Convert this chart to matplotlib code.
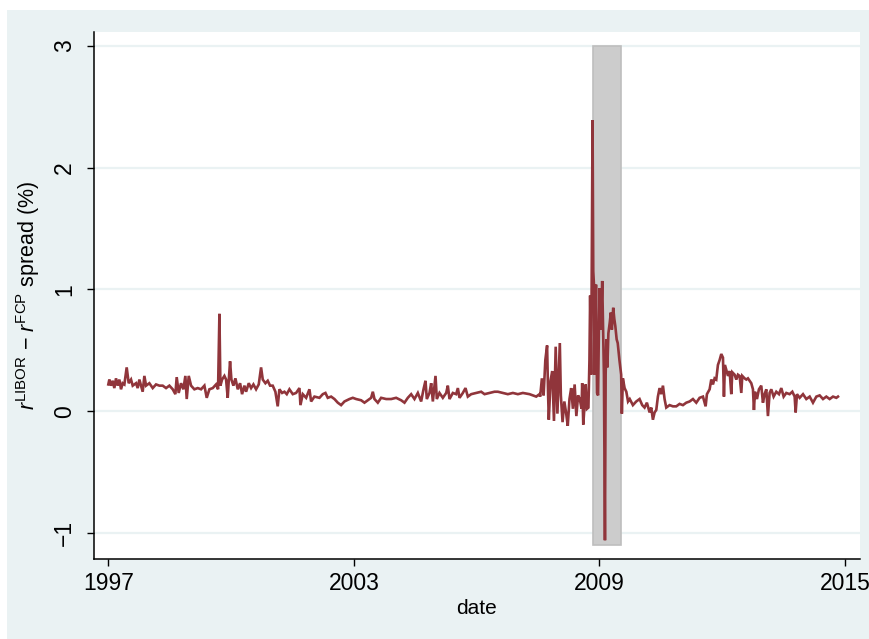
import matplotlib
matplotlib.use("Agg")
import matplotlib.pyplot as plt
from matplotlib.patches import Rectangle

# ---- data (decimal year, spread in %) ----
dates_1 = [1997.00, 1997.025, 1997.066, 1997.107, 1997.147, 1997.188, 1997.229, 1997.270, 1997.310, 1997.351,
           1997.392, 1997.449, 1997.498, 1997.555, 1997.596, 1997.677, 1997.718, 1997.759, 1997.799, 1997.840,
           1997.881, 1997.922, 1998.003, 1998.085, 1998.166, 1998.248, 1998.329, 1998.411, 1998.492, 1998.574,
           1998.639, 1998.671, 1998.720, 1998.777, 1998.834, 1998.883, 1998.916, 1998.965, 1999.022, 1999.103,
           1999.185, 1999.266, 1999.348, 1999.405, 1999.470, 1999.552, 1999.633, 1999.682, 1999.715, 1999.739,
           1999.780, 1999.837, 1999.878, 1999.918, 1999.943, 1999.975, 2000.008, 2000.057, 2000.106, 2000.163,
           2000.220, 2000.269, 2000.326, 2000.367, 2000.432, 2000.489, 2000.546, 2000.611, 2000.676, 2000.733,
           2000.774, 2000.839, 2000.896, 2000.953, 2001.018, 2001.083, 2001.140, 2001.181, 2001.247, 2001.304,
           2001.361, 2001.426, 2001.508, 2001.589, 2001.671, 2001.695, 2001.752, 2001.834, 2001.915, 2001.956,
           2002.037, 2002.160, 2002.241, 2002.306, 2002.363, 2002.445, 2002.526, 2002.608, 2002.689, 2002.771,
           2002.893, 2002.975, 2003.056, 2003.178, 2003.260, 2003.341, 2003.423, 2003.464, 2003.504, 2003.586,
           2003.667, 2003.790, 2003.912, 2004.034, 2004.156, 2004.238, 2004.319, 2004.401, 2004.482, 2004.564,
           2004.645, 2004.703, 2004.751, 2004.784, 2004.849, 2004.890, 2004.931, 2004.996, 2005.028, 2005.093,
           2005.175, 2005.257, 2005.297, 2005.338, 2005.420, 2005.501, 2005.542, 2005.583, 2005.664, 2005.729,
           2005.786, 2005.868, 2005.990, 2006.112, 2006.194, 2006.316, 2006.438, 2006.520, 2006.642, 2006.764,
           2006.887, 2007.009, 2007.131, 2007.294, 2007.457, 2007.538]
spread_1 = [0.22, 0.26, 0.21, 0.25, 0.19, 0.27, 0.21, 0.26, 0.18, 0.23,
            0.22, 0.36, 0.23, 0.26, 0.21, 0.23, 0.19, 0.26, 0.21, 0.16,
            0.29, 0.21, 0.23, 0.19, 0.22, 0.21, 0.21, 0.19, 0.21, 0.18,
            0.14, 0.28, 0.15, 0.23, 0.18, 0.29, 0.10, 0.29, 0.21, 0.18,
            0.19, 0.18, 0.21, 0.11, 0.18, 0.19, 0.22, 0.18, 0.80, 0.21,
            0.26, 0.29, 0.26, 0.11, 0.25, 0.41, 0.26, 0.21, 0.27, 0.18,
            0.23, 0.14, 0.21, 0.16, 0.23, 0.19, 0.22, 0.18, 0.22, 0.36,
            0.26, 0.23, 0.25, 0.21, 0.21, 0.16, 0.04, 0.18, 0.15, 0.16,
            0.14, 0.18, 0.14, 0.15, 0.19, 0.05, 0.14, 0.11, 0.18, 0.08,
            0.12, 0.11, 0.14, 0.15, 0.11, 0.12, 0.10, 0.07, 0.05, 0.08,
            0.10, 0.11, 0.10, 0.09, 0.07, 0.09, 0.11, 0.16, 0.10, 0.07,
            0.11, 0.10, 0.10, 0.11, 0.09, 0.07, 0.11, 0.14, 0.10, 0.15,
            0.08, 0.18, 0.25, 0.10, 0.15, 0.23, 0.08, 0.29, 0.10, 0.15,
            0.11, 0.15, 0.21, 0.10, 0.15, 0.14, 0.19, 0.11, 0.15, 0.19,
            0.12, 0.14, 0.15, 0.16, 0.14, 0.15, 0.16, 0.16, 0.15, 0.14,
            0.15, 0.14, 0.15, 0.14, 0.12, 0.14]

dates_2 = [2007.554, 2007.596, 2007.638, 2007.680, 2007.723, 2007.748, 2007.765, 2007.807, 2007.849, 2007.891,
           2007.933, 2007.975, 2008.009, 2008.034, 2008.059, 2008.101, 2008.144, 2008.186, 2008.228, 2008.270,
           2008.312, 2008.354, 2008.396, 2008.438, 2008.480, 2008.522, 2008.565, 2008.581, 2008.607, 2008.649,
           2008.666, 2008.699, 2008.733, 2008.758, 2008.775, 2008.800, 2008.817, 2008.834, 2008.851, 2008.868,
           2008.884, 2008.901, 2008.918, 2008.944, 2008.969, 2008.986, 2009.002, 2009.028, 2009.053, 2009.070,
           2009.095, 2009.112, 2009.137, 2009.154, 2009.171, 2009.196, 2009.221, 2009.255, 2009.280, 2009.306,
           2009.339, 2009.365, 2009.390, 2009.423, 2009.449, 2009.491, 2009.533, 2009.550, 2009.575, 2009.617,
           2009.659, 2009.701, 2009.743]
spread_2 = [0.12, 0.27, 0.13, 0.42, 0.54, 0.13, -0.07, 0.25, 0.33, -0.08,
            0.53, -0.02, 0.30, 0.56, 0.13, -0.09, 0.08, -0.01, -0.12, 0.10,
            0.19, 0.02, 0.22, -0.04, 0.13, 0.10, 0.02, 0.23, -0.11, 0.10,
            0.22, 0.02, 0.03, 0.42, 0.95, 0.30, 1.43, 2.39, 1.15, 1.04,
            0.30, 0.64, 1.04, 0.15, 0.13, 0.59, 1.01, 0.67, 0.87, 1.07,
            0.59, 0.30, -1.06, 0.30, 0.59, 0.36, 0.64, 0.73, 0.81, 0.67,
            0.85, 0.76, 0.70, 0.59, 0.56, 0.42, 0.30, -0.02, 0.27, 0.19,
            0.16, 0.08, 0.10]

dates_3 = [2009.820, 2009.902, 2009.983, 2010.048, 2010.105, 2010.162, 2010.228, 2010.268, 2010.309, 2010.350,
           2010.391, 2010.431, 2010.472, 2010.513, 2010.554, 2010.594, 2010.635, 2010.717, 2010.798, 2010.880,
           2010.961, 2011.043, 2011.124, 2011.206, 2011.287, 2011.369, 2011.450, 2011.532, 2011.597, 2011.629,
           2011.695, 2011.735, 2011.776, 2011.817, 2011.857, 2011.898, 2011.939, 2011.980, 2012.021, 2012.045,
           2012.069, 2012.102, 2012.143, 2012.184, 2012.224, 2012.249, 2012.306, 2012.347, 2012.387, 2012.428,
           2012.469, 2012.493, 2012.550, 2012.591, 2012.632, 2012.672, 2012.713, 2012.754, 2012.778, 2012.803,
           2012.852, 2012.900, 2012.957, 2012.998, 2013.039, 2013.080, 2013.120, 2013.161, 2013.202, 2013.259,
           2013.324, 2013.390, 2013.447, 2013.504, 2013.569, 2013.650, 2013.716, 2013.773, 2013.797, 2013.830,
           2013.895, 2013.977, 2014.058, 2014.140, 2014.221, 2014.303, 2014.384, 2014.466, 2014.547, 2014.629,
           2014.710, 2014.792, 2014.832]
spread_3 = [0.05, 0.08, 0.10, 0.05, 0.03, 0.07, -0.01, 0.03, -0.07, -0.01,
            0.01, 0.12, 0.19, 0.14, 0.21, 0.10, 0.03, 0.05, 0.04, 0.04,
            0.06, 0.05, 0.07, 0.08, 0.10, 0.07, 0.11, 0.12, 0.04, 0.14,
            0.18, 0.26, 0.22, 0.27, 0.26, 0.38, 0.42, 0.47, 0.44, 0.12,
            0.38, 0.34, 0.29, 0.33, 0.14, 0.32, 0.30, 0.26, 0.30, 0.29,
            0.15, 0.29, 0.27, 0.26, 0.27, 0.25, 0.23, 0.18, 0.01, 0.16,
            0.10, 0.18, 0.21, 0.07, 0.14, 0.18, -0.04, 0.15, 0.18, 0.12,
            0.16, 0.14, 0.19, 0.12, 0.15, 0.14, 0.16, 0.12, -0.01, 0.14,
            0.11, 0.14, 0.10, 0.12, 0.07, 0.12, 0.13, 0.10, 0.12, 0.10,
            0.12, 0.11, 0.12]

dates = dates_1 + dates_2 + dates_3
spread = spread_1 + spread_2 + spread_3

# shaded crisis band
band_start, band_end = 2008.84, 2009.54
band_low, band_high = -1.10, 3.0

x_ticks = [1997, 2003, 2009, 2015]
x_tick_labels = ["1997", "2003", "2009", "2015"]
y_ticks = [-1, 0, 1, 2, 3]
y_tick_labels = ["\u22121", "0", "1", "2", "3"]

# ---- styling ----
plt.rcParams["font.family"] = ["Liberation Sans", "DejaVu Sans"]
plt.rcParams["mathtext.fontset"] = "custom"
plt.rcParams["mathtext.rm"] = "Liberation Sans"
plt.rcParams["mathtext.it"] = "Liberation Sans:italic"

bg = "#EAF2F3"
line_color = "#90353B"

fig = plt.figure(figsize=(8.70, 6.39), dpi=100, facecolor="white")
fig.patches.append(Rectangle((0.008, 0.0), 0.992, 0.984, transform=fig.transFigure,
                             facecolor=bg, edgecolor="none", zorder=-10))

ax = fig.add_axes([94 / 870, 1 - 559 / 639, (860 - 94) / 870, (559 - 32) / 639])
ax.set_facecolor("white")

ax.set_xlim(1996.65, 2015.37)
ax.set_ylim(-1.214, 3.115)

for yv in y_ticks:
    ax.axhline(yv, color=bg, lw=1.6, zorder=0)

ax.add_patch(Rectangle((band_start, band_low), band_end - band_start, band_high - band_low,
                       facecolor="#CCCCCC", edgecolor="#BEBEBE", lw=1.2, zorder=1))

ax.plot(dates, spread, color=line_color, lw=1.9, zorder=3, solid_joinstyle="miter")

ax.set_xticks(x_ticks)
ax.set_xticklabels(x_tick_labels)
ax.set_yticks(y_ticks)
ax.set_yticklabels(y_tick_labels, rotation=90, va="center")

for lab in ax.get_xticklabels() + ax.get_yticklabels():
    lab.set_fontsize(16.5)

ax.tick_params(axis="both", direction="out", length=5, width=1.0, color="black", labelcolor="black")
ax.tick_params(axis="x", pad=4)
ax.tick_params(axis="y", pad=8)

for side in ["top", "right"]:
    ax.spines[side].set_visible(False)
for side in ["left", "bottom"]:
    ax.spines[side].set_linewidth(1.1)
    ax.spines[side].set_color("black")

ax.set_xlabel("date", fontsize=15, labelpad=3)
ax.set_ylabel(r"$\mathit{r}^{\mathrm{LIBOR}}$ $-$ $\mathit{r}^{\mathrm{FCP}}$ spread (%)", fontsize=15.5, labelpad=8)

fig.savefig("out.png", dpi=100, facecolor="white")
